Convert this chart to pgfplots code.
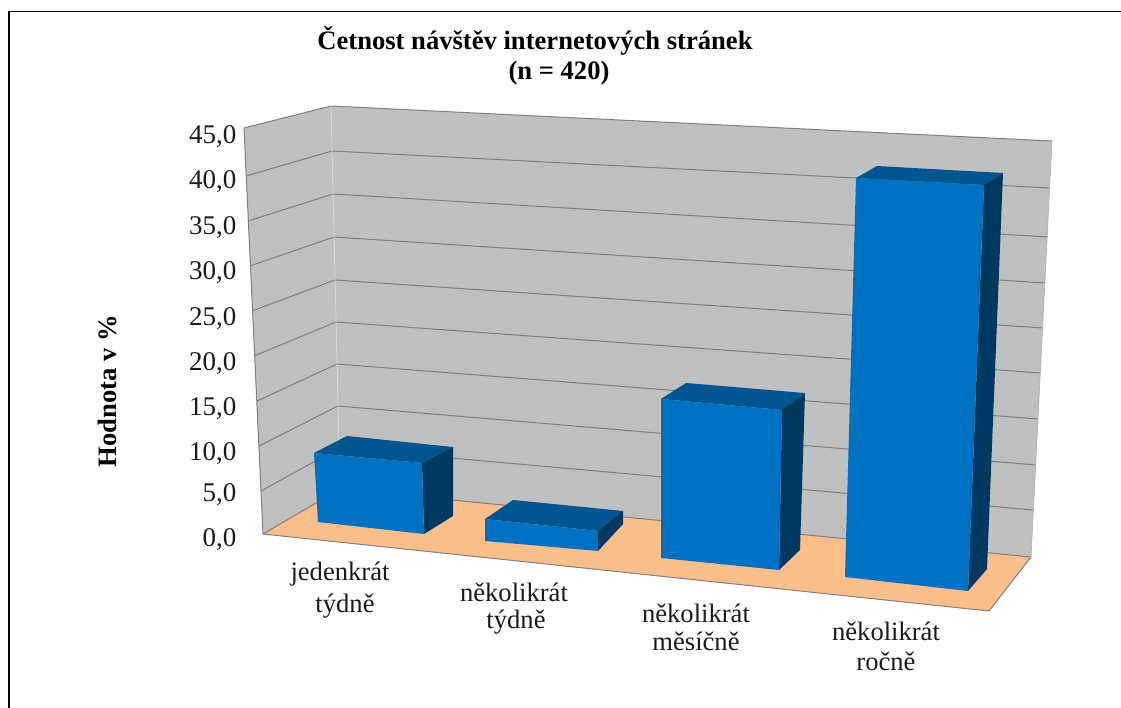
\documentclass[border=0pt]{standalone}
\usepackage{pgfplots}
\pgfplotsset{compat=1.18}
\usepackage{fontspec}
\setmainfont{Liberation Serif}
\definecolor{wall}{RGB}{192,192,192}
\definecolor{floorc}{RGB}{251,191,140}
\definecolor{face}{RGB}{0,112,192}
\definecolor{topc}{RGB}{0,84,144}
\definecolor{sidec}{RGB}{0,56,96}
\definecolor{edge}{RGB}{128,128,128}
\definecolor{ink}{RGB}{26,26,26}
\pgfplotsset{
  grid3/.style={draw=edge,line width=1pt,no markers},
  pf/.style={fill=#1,draw=none,no markers},
}
\begin{document}
\begin{tikzpicture}
\useasboundingbox (0,0) rectangle (1121pt,707pt);
\begin{axis}[
  at={(0,0)},anchor=south west,
  scale only axis,width=1121pt,height=707pt,
  xmin=0,xmax=1121,ymin=0,ymax=707,y dir=reverse,
  axis lines=none,clip=true,
]
% chart frame
\addplot[draw=black,line width=1.4pt,no markers] coordinates {(9,720)(9,11.5)(1130,11.5)};
% back wall, left wall, floor
\addplot[pf=wall] coordinates {(331,106)(1052,141)(1031,557)(340,489)} -- cycle;
\addplot[pf=wall] coordinates {(244,128)(331,106)(340,489)(263,534)} -- cycle;
\addplot[pf=floorc] coordinates {(263,534)(340,489)(1031,557)(989,611)} -- cycle;
% gridlines at 0,5,...,45 on the two walls
\addplot[grid3] coordinates {(263,534)(340,489)(1031,557)};
\addplot[grid3] coordinates {(261,491)(339,448)(1033,510)};
\addplot[grid3] coordinates {(259,446)(338,406)(1036,465)};
\addplot[grid3] coordinates {(257,401)(337,364)(1038,419)};
\addplot[grid3] coordinates {(254,356)(336,322)(1041,373)};
\addplot[grid3] coordinates {(252,311)(335,280)(1043,328)};
\addplot[grid3] coordinates {(250,266)(334,237)(1045,283)};
\addplot[grid3] coordinates {(248,221)(333,194)(1048,237)};
\addplot[grid3] coordinates {(246,176)(332,151)(1050,188)};
\addplot[grid3] coordinates {(244,128)(331,106)(1052,141)};
\addplot[draw=edge,line width=1pt,no markers] coordinates {(244,128)(263,534)};
\addplot[draw=edge,line width=1pt,no markers] coordinates {(263,534)(989,611)(1031,557)};
\addplot[draw=edge!60,line width=0.7pt,no markers] coordinates {(1052,141)(1031,557)};
\addplot[draw=white!85!black,line width=0.7pt,no markers] coordinates {(331,106)(340,489)};
% bar 1
\addplot[pf=topc] coordinates {(314,453)(347,436)(453,447)(422,463)} -- cycle;
\addplot[pf=sidec] coordinates {(422,463)(453,447)(453,516)(424,534)} -- cycle;
\addplot[pf=face] coordinates {(314,453)(422,463)(424,534)(318,522)} -- cycle;
% bar 2
\addplot[pf=topc] coordinates {(485,519)(513,500)(623,511)(598,531)} -- cycle;
\addplot[pf=sidec] coordinates {(598,531)(623,511)(623,524)(598,551)} -- cycle;
\addplot[pf=face] coordinates {(485,519)(598,531)(598,551)(485,541)} -- cycle;
% bar 3
\addplot[pf=topc] coordinates {(661,399)(686,383)(805,393)(782,410)} -- cycle;
\addplot[pf=sidec] coordinates {(782,410)(805,393)(800,550)(779,570)} -- cycle;
\addplot[pf=face] coordinates {(661,399)(782,410)(779,570)(661,558)} -- cycle;
% bar 4
\addplot[pf=topc] coordinates {(856,178)(877,166)(1003,173)(984,185)} -- cycle;
\addplot[pf=sidec] coordinates {(984,185)(1003,173)(987,569)(968,591)} -- cycle;
\addplot[pf=face] coordinates {(856,178)(984,185)(968,591)(845,577)} -- cycle;
% text
\node[font=\fontsize{26.6}{26.6}\selectfont\bfseries,text=black] at (axis cs:535,41) {Četnost návštěv internetových stránek};
\node[font=\fontsize{26.6}{26.6}\selectfont\bfseries,text=black] at (axis cs:559,73) {(n = 420)};
\node[font=\fontsize{26.6}{26.6}\selectfont\bfseries,text=black,rotate=90] at (axis cs:107,391) {Hodnota v \%};
\foreach \y/\t in {137/45,182/40,228/35,273/30,319/25,364/20,409/15,454/10,495/5,540/0}{
  \edef\tmp{\noexpand\node[font=\noexpand\fontsize{27}{27}\noexpand\selectfont,text=ink,anchor=east] at (axis cs:240,\y) {\t,0};}\tmp
}
\foreach \x/\y/\t in {340/574/jedenkrát,345/606/týdně,514/592/několikrát,516/622/týdně,696/613/několikrát,696/641/měsíčně,886/631/několikrát,886/661/ročně}{
  \edef\tmp{\noexpand\node[font=\noexpand\fontsize{26.6}{26.6}\noexpand\selectfont,text=ink] at (axis cs:\x,\y) {\t};}\tmp
}
\end{axis}
\end{tikzpicture}
\end{document}
